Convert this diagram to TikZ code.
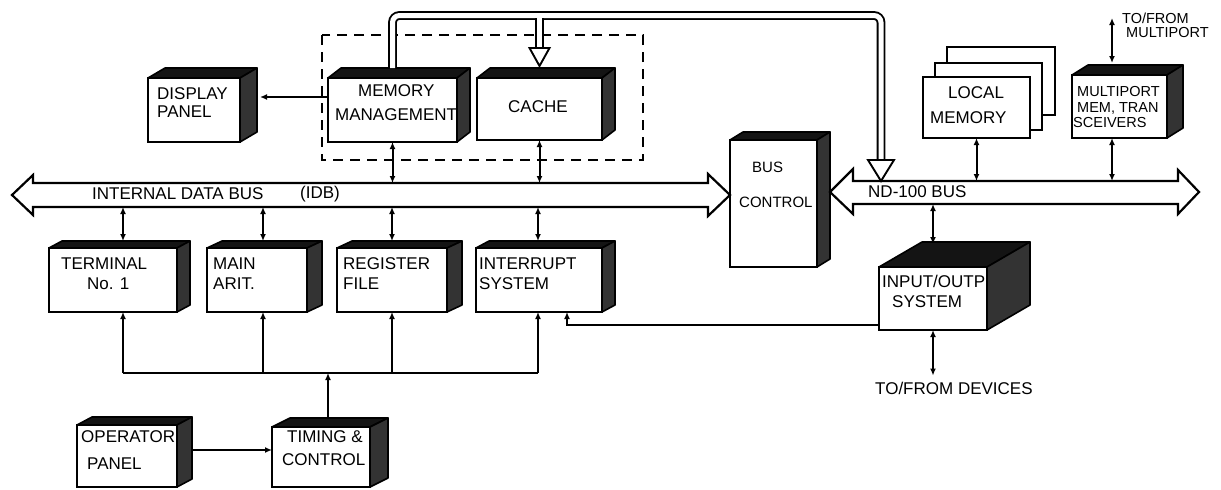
\documentclass[tikz,border=0pt]{standalone}
\usepackage{fontspec}
\setmainfont{Liberation Sans}
\usetikzlibrary{arrows.meta,calc}
\tikzset{
 >={Latex[length=7pt,width=6pt]},
 blkbox/.style={draw, line width=2.2pt, fill=white, inner sep=0pt, outer sep=0pt},
 topface/.style={fill=black!92, draw=black, line width=1.6pt, line join=round},
 sideface/.style={fill=black!80, draw=black, line width=1.6pt, line join=round},
 conn/.style={line width=2pt, <->},
 one/.style={line width=2pt, ->},
 plain/.style={line width=2pt},
 lbl/.style={anchor=west, inner sep=0pt, font=\fontsize{17}{20}\selectfont},
 mlbl/.style={anchor=west, inner sep=0pt, font=\fontsize{15}{18}\selectfont},
 slbl/.style={anchor=west, inner sep=0pt, font=\fontsize{14.5}{15}\selectfont},
 busshape/.style={draw, line width=2.2pt, fill=white, line join=miter},
 busbody/.style={inner sep=0pt, outer sep=0pt, anchor=north west},
 pipe/.style={line width=1.9pt, double=white, double distance=5pt, rounded corners=7pt},
 hollow/.style={draw, line width=1.9pt, fill=white, line join=miter},
 dashbox/.style={draw, line width=1.9pt, dash pattern=on 10pt off 7pt},
}
\newcommand\blk[7]{%
 \node[blkbox, anchor=north west, minimum width={#4-#2}, minimum height={#5-#3}] (#1) at (#2,#3) {};
 \filldraw[topface] (#1.north west) -- ++(#6,-#7) -- ([shift={(#6,-#7)}]#1.north east) -- (#1.north east) -- cycle;
 \filldraw[sideface] (#1.north east) -- ([shift={(#6,-#7)}]#1.north east) -- ([shift={(#6,-#7)}]#1.south east) -- (#1.south east) -- cycle;
}
\begin{document}
\begin{tikzpicture}[x=1pt,y=-1pt]
\useasboundingbox (0,0) rectangle (1221,490);

% dashed grouping box
\draw[dashbox] (322,35) rectangle (643,160);

% blocks
\blk{disp}{148}{78}{240}{142}{17}{10}
\blk{mm}{328}{78}{457}{142}{13}{10}
\blk{cache}{477}{78}{602}{140}{13}{10}
\blk{busctl}{730}{140}{817}{267}{13}{8}
\blk{mp}{1072}{75}{1167}{138}{16}{10}
\blk{io}{879}{267}{987}{330}{43}{25}
\blk{term}{49}{248}{177}{312}{13}{7}
\blk{arit}{207}{248}{307}{312}{15}{7}
\blk{reg}{337}{248}{447}{312}{15}{7}
\blk{intr}{476}{248}{602}{312}{13}{7}
\blk{tc}{272}{427}{370}{487}{18}{9}
\blk{op}{77}{425}{177}{487}{15}{8}

% local memory stack
\node[blkbox, anchor=north west, minimum width=108, minimum height=68] (lm3) at (947,47) {};
\node[blkbox, anchor=north west, minimum width=107, minimum height=67] (lm2) at (935,63) {};
\node[blkbox, anchor=north west, minimum width=107, minimum height=61] (lm) at (923,77) {};

% buses
\draw[busshape] (12,195) -- (33,175) -- (33,183) -- (708,183) -- (708,174) -- (730,195)
  -- (708,216) -- (708,207) -- (33,207) -- (33,215) -- cycle;
\node[busbody, minimum width=675, minimum height=24] (idb) at (33,183) {};
\draw[busshape] (830,192) -- (853,169) -- (853,181) -- (1178,181) -- (1178,170) -- (1199,192)
  -- (1178,214) -- (1178,204) -- (853,204) -- (853,214) -- cycle;
\node[busbody, minimum width=325, minimum height=23] (nd) at (853,181) {};

% labels
\node[lbl] (t1) at (157,94) {DISPLAY};
\node[lbl] (t2) at (157,112) {PANEL};
\node[lbl] (t3) at (358,91) {MEMORY};
\node[lbl] (t4) at (335,115) {MANAGEMENT};
\node[lbl] (t5) at (508,107) {CACHE};
\node[mlbl] (t6) at (752,167) {BUS};
\node[mlbl] (t7) at (739,202) {CONTROL};
\node[lbl] (t8) at (948,93) {LOCAL};
\node[lbl] (t9) at (930,118) {MEMORY};
\node[slbl] (t10) at (1077,92) {MULTIPORT};
\node[slbl] (t11) at (1077,108) {MEM, TRAN};
\node[slbl] (t12) at (1073,123) {SCEIVERS};
\node[slbl] (t13) at (1122,18) {TO/FROM};
\node[slbl] (t14) at (1126,33) {MULTIPORT};
\node[lbl] (t15) at (92,194) {INTERNAL DATA BUS};
\node[lbl] (t16) at (300,194) {(IDB)};
\node[lbl] (t17) at (868,192) {ND-100 BUS};
\node[lbl] (t18) at (61,264) {TERMINAL};
\node[lbl] (t19) at (87,284) {No. 1};
\node[lbl] (t20) at (213,264) {MAIN};
\node[lbl] (t21) at (213,284) {ARIT.};
\node[lbl] (t22) at (343,264) {REGISTER};
\node[lbl] (t23) at (343,284) {FILE};
\node[lbl] (t24) at (479,264) {INTERRUPT};
\node[lbl] (t25) at (479,284) {SYSTEM};
\node[lbl] (t26) at (882,281) {INPUT/OUTP};
\node[lbl] (t27) at (892,302) {SYSTEM};
\node[lbl] (dev) at (875,388) {TO/FROM DEVICES};
\node[lbl] (t28) at (81,437) {OPERATOR};
\node[lbl] (t29) at (87,464) {PANEL};
\node[lbl] (t30) at (287,437) {TIMING \&};
\node[lbl] (t31) at (282,460) {CONTROL};

% double-line (pipe) path with hollow heads
\coordinate (pipeY) at (0,15.5);
\coordinate (mmTop) at ([yshift=10]mm.north);
\coordinate (cTop) at ([yshift=12]cache.north);
\coordinate (cHb) at ($(cTop)+(0,-18)$);
\coordinate (nHb) at (881,160);
\coordinate (nTip) at (nHb |- nd.north);
\draw[pipe] (mmTop) -- (mmTop |- pipeY) -- (nHb |- pipeY) -- (nHb);
\draw[pipe] (cTop |- pipeY) -- (cHb);
\draw[white, line width=5pt] ($(cTop |- pipeY)+(-10,0)$) -- ($(cTop |- pipeY)+(10,0)$);
\draw[white, line width=5pt] (cTop |- pipeY) -- (cHb);
\draw[hollow] ($(cHb)+(-10,0)$) -- ($(cHb)+(10,0)$) -- (cTop) -- cycle;
\draw[hollow] ($(nHb)+(-13,0)$) -- ($(nHb)+(13,0)$) -- (nTip) -- cycle;

% connectors upper
\coordinate (mmL) at ([shift={(0,-13)}]mm.west);
\coordinate (dispR) at ([xshift=20]disp.east);
\draw[one] (mmL) -- (mmL -| dispR);
\draw[conn] (mm.south) -- (mm.south |- idb.north);
\draw[conn] (cache.south) -- (cache.south |- idb.north);

% IDB to lower boxes
\coordinate (termT) at ([shift={(10,-7)}]term.north);
\coordinate (aritT) at ([shift={(6,-7)}]arit.north);
\coordinate (regT) at ([shift={(0,-7)}]reg.north);
\coordinate (intrT) at ([shift={(-1,-7)}]intr.north);
\draw[conn] (termT |- idb.south) -- (termT);
\draw[conn] (aritT |- idb.south) -- (aritT);
\draw[conn] (regT |- idb.south) -- (regT);
\draw[conn] (intrT |- idb.south) -- (intrT);

% timing distribution
\coordinate (dl) at (0,373);
\coordinate (termB) at ([xshift=10]term.south);
\coordinate (aritB) at ([xshift=6]arit.south);
\coordinate (regB) at (reg.south);
\coordinate (intrB) at ([xshift=-1]intr.south);
\draw[plain] (termB |- dl) -- (intrB |- dl);
\draw[one] (termB |- dl) -- (termB);
\draw[one] (aritB |- dl) -- (aritB);
\draw[one] (regB |- dl) -- (regB);
\draw[one] (intrB |- dl) -- (intrB);
\coordinate (tcT) at ([shift={(7,-9)}]tc.north);
\draw[one] (tcT) -- (tcT |- dl);
\coordinate (opR) at ([shift={(15,-6)}]op.east);
\draw[one] (opR) -- (opR -| tc.west);

% I/O to interrupt
\draw[one] ([yshift=-26]io.west) -| ([xshift=28]intr.south);

% ND-100 bus connectors
\draw[conn] (nd.south -| io.north) -- ([yshift=23]io.north);
\coordinate (devT) at ([yshift=6]dev.north -| io.south);
\draw[conn] (io.south) -- (devT);
\draw[conn] (lm.south) -- (lm.south |- nd.north);
\coordinate (mpB) at ([xshift=-7.5]mp.south);
\draw[conn] (mpB) -- (mpB |- nd.north);
\coordinate (mpT) at ([shift={(-7.5,-12)}]mp.north);
\coordinate (mpFree) at ($(mpT)+(0,-45)$);
\draw[conn] (mpT) -- (mpFree);
\end{tikzpicture}
\end{document}
